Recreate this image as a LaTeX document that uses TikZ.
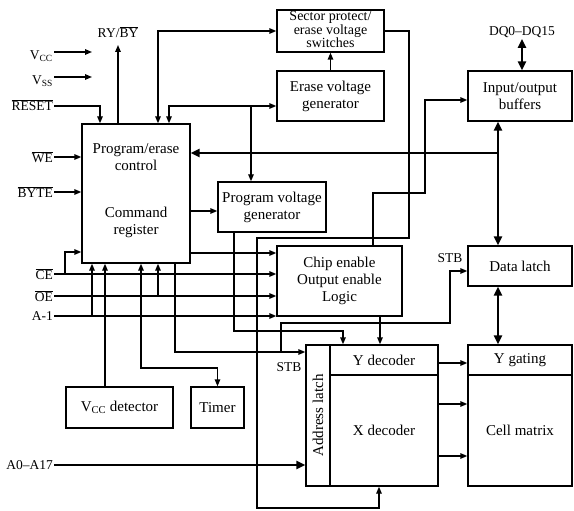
\documentclass[tikz,border=0pt]{standalone}
\usepackage{fontspec}
\setmainfont{Liberation Serif}
\usetikzlibrary{arrows.meta,calc}
\begin{document}
\begin{tikzpicture}[x=1pt,y=-1pt,
  box/.style={draw,line width=1.4pt,inner sep=0pt,align=center,font=\fontsize{15}{17}\selectfont},
  txt/.style={inner sep=0pt,align=center,font=\fontsize{15}{17}\selectfont},
  stxt/.style={inner sep=0pt,align=center,font=\fontsize{14}{15}\selectfont},
  lbl/.style={inner sep=1pt,font=\fontsize{13.5}{15}\selectfont},
  wire/.style={line width=1.4pt},
  bus/.style={line width=2.6pt},
  ar1/.style={-{Triangle[length=7pt,width=5.5pt]}},
  ar2/.style={{Triangle[length=7pt,width=5.5pt]}-{Triangle[length=7pt,width=5.5pt]}},
  bar1/.style={-{Triangle[length=9pt,width=8pt]}},
  bar2/.style={{Triangle[length=9pt,width=8pt]}-{Triangle[length=9pt,width=8pt]}}]
\useasboundingbox (0,0) rectangle (574,511);

% boxes
\node[box,minimum width=108pt,minimum height=139pt] (pec) at (136,193.5) {};
\node[txt] (pect1) at (136,157.5) {Program/erase\\control};
\node[txt] (pect2) at (136,222) {Command\\register};
\node[box,minimum width=107pt,minimum height=42pt] (sect) at (330.5,31) {};
\node[stxt,anchor=base] (sect1) at (330.5,21) {Sector protect/};
\node[stxt,anchor=base] (sect2) at (330.5,34.5) {erase voltage};
\node[stxt,anchor=base] (sect3) at (330.5,48) {switches};
\node[box,minimum width=107pt,minimum height=50pt] (evg) at (330.5,96) {Erase voltage\\generator};
\node[box,minimum width=108pt,minimum height=50pt] (pvg) at (272,207) {Program voltage\\generator};
\node[box,minimum width=104pt,minimum height=50pt] (iob) at (520,96) {Input/output\\buffers};
\node[box,minimum width=125pt,minimum height=70pt] (ceol) at (339.5,281) {Chip enable\\Output enable\\Logic};
\node[box,minimum width=104pt,minimum height=40pt] (dl) at (520,266) {Data latch};
\node[box,minimum width=24pt,minimum height=141pt] (al) at (318,415.5) {};
\node[txt,rotate=90] (alt) at (al.center) {Address latch};
\node[box,minimum width=108pt,minimum height=30pt] (yd) at (384,360) {Y decoder};
\node[box,minimum width=108pt,minimum height=111pt] (xd) at (384,430.5) {X decoder};
\node[box,minimum width=104pt,minimum height=30pt] (yg) at (520,360) {Y gating};
\node[box,minimum width=104pt,minimum height=111pt] (cm) at (520,430.5) {Cell matrix};
\node[box,minimum width=107pt,minimum height=41pt] (vccd) at (119.5,407.5) {V\textsubscript{CC} detector};
\node[box,minimum width=53pt,minimum height=41pt] (timer) at (217.5,407.5) {Timer};

% labels
\node[lbl] (ryby) at (118,32) {RY/$\overline{\mbox{BY}}$};
\node[lbl] (dq) at (522,32) {DQ0–DQ15};
\node[lbl,anchor=east] (vcc) at (54,56) {V\textsubscript{CC}};
\node[lbl,anchor=east] (vss) at (54,81) {V\textsubscript{SS}};
\node[lbl,anchor=east] (reset) at (54,105) {$\overline{\mbox{RESET}}$};
\node[lbl,anchor=east] (we) at (54,157) {$\overline{\mbox{WE}}$};
\node[lbl,anchor=east] (byte) at (54,192) {$\overline{\mbox{BYTE}}$};
\node[lbl,anchor=east] (ce) at (54,274) {$\overline{\mbox{CE}}$};
\node[lbl,anchor=east] (oe) at (54,296) {$\overline{\mbox{OE}}$};
\node[lbl,anchor=east] (am) at (54,316) {A-1};
\node[lbl,anchor=east] (a0) at (54,465) {A0–A17};
\node[lbl] (stb1) at (450,258) {STB};
\node[lbl] (stb2) at (289,367) {STB};

% coordinates
\coordinate (ryT) at (118,45);
\coordinate (vccT) at (92,52);
\coordinate (vssT) at (92,77);
\coordinate (rsB) at (100,106);
\coordinate (sc) at (158,31);
\coordinate (ec) at (169,106);
\coordinate (eb) at (251,106);
\coordinate (s1) at (409,238);
\coordinate (s2) at (257,508);
\coordinate (s3) at (379,508);
\coordinate (c1) at (373,193);
\coordinate (c2) at (425,100);
\coordinate (bx) at (498,153);
\coordinate (pp) at (200,211);
\coordinate (pc) at (200,253);
\coordinate (ceb) at (65,252);
\coordinate (oeb) at (158,296);
\coordinate (amb) at (92,316);
\coordinate (vdb) at (105,300);
\coordinate (tm) at (141,368);
\coordinate (tm2) at (217.5,368);
\coordinate (pa) at (175,352);
\coordinate (st1) at (281,323);
\coordinate (st2) at (450,271);
\coordinate (pv1) at (234,331);
\coordinate (pv2) at (343,331);
\coordinate (cy) at (380,330);
\coordinate (d1) at (450,363);
\coordinate (d2) at (450,404);
\coordinate (d3) at (450,456);

% connectors
\draw[wire,ar1] (ryT |- pec.north) -- (ryT);
\draw[wire,ar1] (vccT -| vcc.east) -- (vccT);
\draw[wire,ar1] (vssT -| vss.east) -- (vssT);
\draw[wire,ar1] (rsB -| reset.east) -- (rsB) -- (rsB |- pec.north);
\draw[wire,ar1] (we.east) -- (we.east -| pec.west);
\draw[wire,ar1] (byte.east) -- (byte.east -| pec.west);
\draw[wire,ar2] (sc |- pec.north) -- (sc) -- (sect.west);
\draw[wire,ar2] (ec |- pec.north) -- (ec) -- (ec -| evg.west);
\draw[wire,ar1] (eb) -- (eb |- pvg.north);
\draw[wire,ar1] (sect3 |- evg.north) -- (sect3 |- sect.south);
\draw[wire,ar1] (sect.east) -| (s1) -| (s2) -- (s3) -- (s3 |- xd.south);
\draw[wire,ar1] (c1 |- ceol.north) -- (c1) -| (c2) -- (c2 -| iob.west);
\draw[bus,bar2] (bx |- iob.south) -- (bx |- dl.north);
\draw[bus,bar1] (bx) -- (bx -| pec.east);
\draw[bus,bar2] (dq.south) -- (dq.south |- iob.north);
\draw[wire,ar1] (pp -| pec.east) -- (pp -| pvg.west);
\draw[wire,ar1] (pc -| pec.east) -- (pc -| ceol.west);
\draw[wire,ar1] (ce.east) -- (ce.east -| ceol.west);
\draw[wire,ar1] (ceb |- ce.east) -- (ceb) -- (ceb -| pec.west);
\draw[wire,ar1] (oe.east) -- (oe.east -| ceol.west);
\draw[wire,ar1] (oeb |- oe.east) -- (oeb |- pec.south);
\draw[wire,ar1] (am.east) -- (am.east -| ceol.west);
\draw[wire,ar1] (amb |- am.east) -- (amb |- pec.south);
\draw[wire,ar1] (vdb |- vccd.north) -- (vdb |- pec.south);
\draw[wire,ar2] (tm |- pec.south) -- (tm) -- (tm2) -- (tm2 |- timer.north);
\draw[wire,ar1] (pa |- pec.south) -- (pa) -- (pa -| al.west);
\draw[wire,ar1] (st1 |- pa) -- (st1) -| (st2) -- (st2 -| dl.west);
\draw[wire,ar1] (pv1 |- pvg.south) -- (pv1) -- (pv2) -- (pv2 |- yd.north);
\draw[wire,ar1] (cy |- ceol.south) -- (cy |- yd.north);
\draw[bus,bar1] (a0.east) -- (a0.east -| al.west);
\draw[wire,ar1] (d1 -| yd.east) -- (d1 -| yg.west);
\draw[wire,ar1] (d2 -| xd.east) -- (d2 -| cm.west);
\draw[wire,ar1] (d3 -| xd.east) -- (d3 -| cm.west);
\draw[bus,bar2] (bx |- dl.south) -- (bx |- yg.north);
\end{tikzpicture}
\end{document}
